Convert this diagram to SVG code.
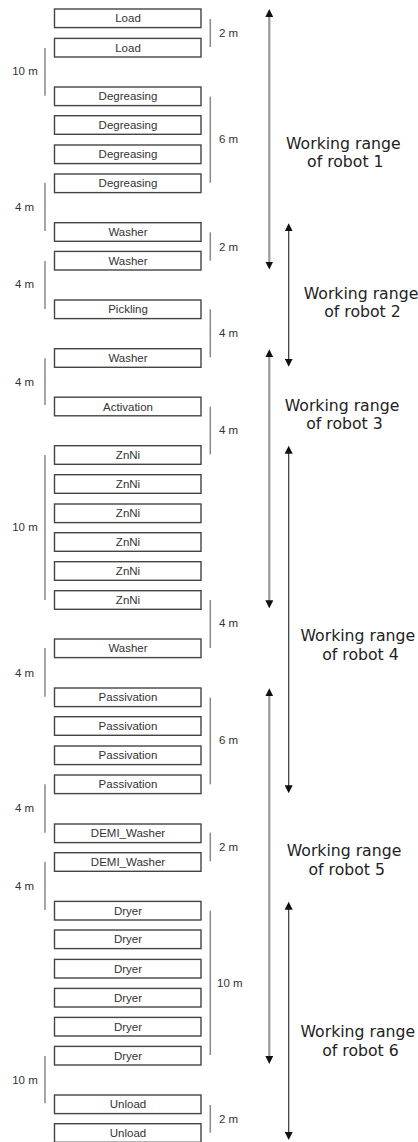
<svg xmlns="http://www.w3.org/2000/svg" width="418" height="1142" viewBox="0 0 418 1142">
<style>
.box rect{fill:#fff;stroke:#444;stroke-width:1.4}
.box text{font-family:"Liberation Sans",Arial,sans-serif;font-size:11.5px;fill:#333;text-anchor:middle}
.dim line{stroke:#888;stroke-width:1.5}
.dim text{font-family:"Liberation Sans",Arial,sans-serif;font-size:11.5px;fill:#333}
.dl text{text-anchor:middle}
.thick{stroke:#999;stroke-width:2.2;fill:none}
.thin{stroke:#333;stroke-width:1.2;fill:none}
.lbl{font-family:"DejaVu Sans",sans-serif;font-size:15.7px;fill:#222;text-anchor:middle}
</style>
<defs>
<marker id="ah" viewBox="0 0 8 8" refX="4" refY="4" markerWidth="8" markerHeight="8" markerUnits="userSpaceOnUse" orient="auto-start-reverse">
<path d="M0,0 L8,4 L0,8 z" fill="#111"/>
</marker>
</defs>

<g id="n1" class="box"><rect x="54.5" y="9" width="146.5" height="18.6"/><text x="128" y="22.3">Load</text></g>
<g id="n2" class="box"><rect x="54.5" y="38.4" width="146.5" height="18.6"/><text x="128" y="51.7">Load</text></g>
<g id="n3" class="box"><rect x="54.5" y="87" width="146.5" height="18.6"/><text x="128" y="100.3">Degreasing</text></g>
<g id="n4" class="box"><rect x="54.5" y="115.7" width="146.5" height="18.6"/><text x="128" y="129">Degreasing</text></g>
<g id="n5" class="box"><rect x="54.5" y="145" width="146.5" height="18.6"/><text x="128" y="158.3">Degreasing</text></g>
<g id="n6" class="box"><rect x="54.5" y="174" width="146.5" height="18.6"/><text x="128" y="187.3">Degreasing</text></g>
<g id="n7" class="box"><rect x="54.5" y="222.7" width="146.5" height="18.6"/><text x="128" y="236">Washer</text></g>
<g id="n8" class="box"><rect x="54.5" y="251.4" width="146.5" height="18.6"/><text x="128" y="264.7">Washer</text></g>
<g id="n9" class="box"><rect x="54.5" y="300" width="146.5" height="18.6"/><text x="128" y="313.3">Pickling</text></g>
<g id="n10" class="box"><rect x="54.5" y="348.7" width="146.5" height="18.6"/><text x="128" y="362">Washer</text></g>
<g id="n11" class="box"><rect x="54.5" y="397.2" width="146.5" height="18.6"/><text x="128" y="410.5">Activation</text></g>
<g id="n12" class="box"><rect x="54.5" y="445.7" width="146.5" height="18.6"/><text x="128" y="459">ZnNi</text></g>
<g id="n13" class="box"><rect x="54.5" y="474.7" width="146.5" height="18.6"/><text x="128" y="488">ZnNi</text></g>
<g id="n14" class="box"><rect x="54.5" y="504" width="146.5" height="18.6"/><text x="128" y="517.3">ZnNi</text></g>
<g id="n15" class="box"><rect x="54.5" y="532.7" width="146.5" height="18.6"/><text x="128" y="546">ZnNi</text></g>
<g id="n16" class="box"><rect x="54.5" y="561.7" width="146.5" height="18.6"/><text x="128" y="575">ZnNi</text></g>
<g id="n17" class="box"><rect x="54.5" y="590.7" width="146.5" height="18.6"/><text x="128" y="604">ZnNi</text></g>
<g id="n18" class="box"><rect x="54.5" y="639" width="146.5" height="18.6"/><text x="128" y="652.3">Washer</text></g>
<g id="n19" class="box"><rect x="54.5" y="688" width="146.5" height="18.6"/><text x="128" y="701.3">Passivation</text></g>
<g id="n20" class="box"><rect x="54.5" y="716.7" width="146.5" height="18.6"/><text x="128" y="730">Passivation</text></g>
<g id="n21" class="box"><rect x="54.5" y="746" width="146.5" height="18.6"/><text x="128" y="759.3">Passivation</text></g>
<g id="n22" class="box"><rect x="54.5" y="775" width="146.5" height="18.6"/><text x="128" y="788.3">Passivation</text></g>
<g id="n23" class="box"><rect x="54.5" y="824" width="146.5" height="18.6"/><text x="128" y="837.3">DEMI_Washer</text></g>
<g id="n24" class="box"><rect x="54.5" y="852.7" width="146.5" height="18.6"/><text x="128" y="866">DEMI_Washer</text></g>
<g id="n25" class="box"><rect x="54.5" y="901.4" width="146.5" height="18.6"/><text x="128" y="914.7">Dryer</text></g>
<g id="n26" class="box"><rect x="54.5" y="930" width="146.5" height="18.6"/><text x="128" y="943.3">Dryer</text></g>
<g id="n27" class="box"><rect x="54.5" y="959.4" width="146.5" height="18.6"/><text x="128" y="972.7">Dryer</text></g>
<g id="n28" class="box"><rect x="54.5" y="988.4" width="146.5" height="18.6"/><text x="128" y="1001.7">Dryer</text></g>
<g id="n29" class="box"><rect x="54.5" y="1017.4" width="146.5" height="18.6"/><text x="128" y="1030.7">Dryer</text></g>
<g id="n30" class="box"><rect x="54.5" y="1046.4" width="146.5" height="18.6"/><text x="128" y="1059.7">Dryer</text></g>
<g id="n31" class="box"><rect x="54.5" y="1095" width="146.5" height="18.6"/><text x="128" y="1108.3">Unload</text></g>
<g id="n32" class="box"><rect x="54.5" y="1123.7" width="146.5" height="18.6"/><text x="128" y="1137">Unload</text></g>

<g id="dims-right" class="dim">
<line x1="210.3" y1="19" x2="210.3" y2="47"/><text x="219" y="37">2 m</text>
<line x1="210.3" y1="96.7" x2="210.3" y2="182.7"/><text x="219" y="143.3">6 m</text>
<line x1="210.3" y1="232.3" x2="210.3" y2="260.7"/><text x="219" y="250.7">2 m</text>
<line x1="210.3" y1="309.3" x2="210.3" y2="357.3"/><text x="219" y="337.3">4 m</text>
<line x1="210.3" y1="406.7" x2="210.3" y2="454.3"/><text x="219" y="434">4 m</text>
<line x1="210.3" y1="600" x2="210.3" y2="648"/><text x="219" y="627.3">4 m</text>
<line x1="210.3" y1="697.7" x2="210.3" y2="784.3"/><text x="219" y="744">6 m</text>
<line x1="210.3" y1="832.7" x2="210.3" y2="861.3"/><text x="219" y="851.3">2 m</text>
<line x1="210.3" y1="910.7" x2="210.3" y2="1055"/><text x="217" y="986.7">10 m</text>
<line x1="210.3" y1="1105" x2="210.3" y2="1132.7"/><text x="219" y="1122.7">2 m</text>
</g>

<g id="dims-left" class="dim dl">
<line x1="45" y1="48" x2="45" y2="95.7"/><text x="25" y="75.3">10 m</text>
<line x1="45" y1="182.7" x2="45" y2="231"/><text x="24.5" y="211.3">4 m</text>
<line x1="45" y1="261" x2="45" y2="309"/><text x="24.5" y="288">4 m</text>
<line x1="45" y1="358.3" x2="45" y2="405"/><text x="24.5" y="385.7">4 m</text>
<line x1="45" y1="455" x2="45" y2="600"/><text x="25" y="531.3">10 m</text>
<line x1="45" y1="648" x2="45" y2="696.7"/><text x="24.5" y="677.3">4 m</text>
<line x1="45" y1="784.3" x2="45" y2="832.7"/><text x="24.5" y="812.3">4 m</text>
<line x1="45" y1="861.7" x2="45" y2="910"/><text x="24.5" y="890">4 m</text>
<line x1="45" y1="1056" x2="45" y2="1103.3"/><text x="25" y="1084">10 m</text>
</g>

<g id="connectors">
<line class="thick" x1="269.3" y1="13" x2="269.3" y2="265.5" marker-start="url(#ah)" marker-end="url(#ah)"/>
<line class="thin" x1="288.7" y1="227.3" x2="288.7" y2="362.7" marker-start="url(#ah)" marker-end="url(#ah)"/>
<line class="thick" x1="269.3" y1="353.3" x2="269.3" y2="604.3" marker-start="url(#ah)" marker-end="url(#ah)"/>
<line class="thin" x1="288.7" y1="449.7" x2="288.7" y2="789.3" marker-start="url(#ah)" marker-end="url(#ah)"/>
<line class="thick" x1="269.3" y1="692.3" x2="269.3" y2="1060" marker-start="url(#ah)" marker-end="url(#ah)"/>
<line class="thin" x1="288.7" y1="905.7" x2="288.7" y2="1136" marker-start="url(#ah)" marker-end="url(#ah)"/>
</g>

<g id="labels">
<g id="r1"><text class="lbl" x="343.3" y="149">Working range</text><text class="lbl" x="345.3" y="166.7">of robot 1</text></g>
<g id="r2"><text class="lbl" x="361" y="299.3">Working range</text><text class="lbl" x="362.5" y="317">of robot 2</text></g>
<g id="r3"><text class="lbl" x="342" y="410.7">Working range</text><text class="lbl" x="344.5" y="429.3">of robot 3</text></g>
<g id="r4"><text class="lbl" x="357.8" y="640.7">Working range</text><text class="lbl" x="360.5" y="660">of robot 4</text></g>
<g id="r5"><text class="lbl" x="344" y="856">Working range</text><text class="lbl" x="346.7" y="875">of robot 5</text></g>
<g id="r6"><text class="lbl" x="357.8" y="1037.3">Working range</text><text class="lbl" x="360.5" y="1055.7">of robot 6</text></g>
</g>
</svg>
